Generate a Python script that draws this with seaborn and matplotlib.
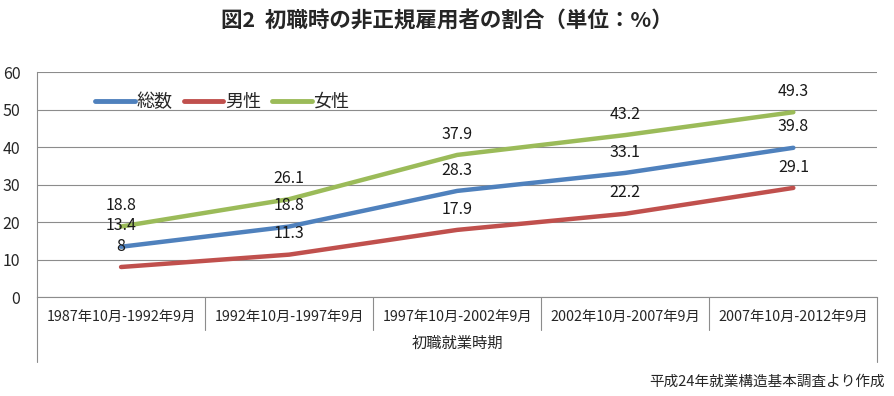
import pandas as pd
import seaborn as sns
import matplotlib.pyplot as plt

periods = ["1987年10月-1992年9月", "1992年10月-1997年9月", "1997年10月-2002年9月",
           "2002年10月-2007年9月", "2007年10月-2012年9月"]
total = [13.4, 18.8, 28.3, 33.1, 39.8]
male = [8, 11.3, 17.9, 22.2, 29.1]
female = [18.8, 26.1, 37.9, 43.2, 49.3]
series_names = ["総数", "男性", "女性"]
colors = ["#4F81BD", "#C0504D", "#9BBB59"]

rows = []
for name, vals in zip(series_names, [total, male, female]):
    for i, v in enumerate(vals):
        rows.append({"x": i, "value": v, "series": name})
df = pd.DataFrame(rows)

sns.set_style("white")
plt.rcParams["font.family"] = ["Noto Sans CJK JP", "DejaVu Sans"]

fig = plt.figure(figsize=(8.94, 3.96), dpi=100)
ax = fig.add_axes([0.0414, 0.25, 0.94, 0.568])

sns.lineplot(data=df, x="x", y="value", hue="series", hue_order=series_names,
             palette=colors, linewidth=3.2, ax=ax, legend=True,
             solid_capstyle="round")

for name, vals in zip(series_names, [total, male, female]):
    for i, v in enumerate(vals):
        ax.annotate(f"{v:g}", (i, v), xytext=(0, 15), textcoords="offset points",
                    ha="center", va="center", fontsize=11.5, color="#1a1a1a")

ax.set_xlim(-0.5, 4.5)
ax.set_ylim(0, 60)
ax.set_yticks(range(0, 61, 10))
ax.yaxis.grid(True, color="#8c8c8c", linewidth=0.8)
ax.set_axisbelow(True)
for s in ["top", "right"]:
    ax.spines[s].set_visible(False)
ax.spines["left"].set_color("#8c8c8c")
ax.spines["bottom"].set_color("#8c8c8c")
ax.tick_params(axis="y", labelsize=11.5, length=4, color="#8c8c8c", pad=8)
ax.tick_params(axis="x", length=0, labelsize=10.3, pad=9)
ax.set_xticks(range(5))
ax.set_xticklabels(periods)
ax.set_xlabel("初職就業時期", fontsize=11, labelpad=8)
ax.set_ylabel("")

# category separators below the axis
for xb in [-0.5, 0.5, 1.5, 2.5, 3.5, 4.5]:
    depth = -0.29 if xb in (-0.5, 4.5) else -0.147
    ax.plot([xb, xb], [0, depth], transform=ax.get_xaxis_transform(),
            color="#8c8c8c", linewidth=0.8, clip_on=False)

handles, labels = ax.get_legend_handles_labels()
leg = ax.legend(handles, labels, loc="upper left", bbox_to_anchor=(0.05, 0.98),
                ncol=3, frameon=False, fontsize=13, handlelength=2.2,
                handletextpad=0.1, columnspacing=0.6)
for line in leg.get_lines():
    line.set_linewidth(3.5)
    line.set_solid_capstyle("round")

fig.suptitle("図2  初職時の非正規雇用者の割合（単位：%）", fontsize=15.5,
             fontweight="bold", y=0.975)
fig.text(0.99, 0.035, "平成24年就業構造基本調査より作成", ha="right",
         va="center", fontsize=10.5)

fig.savefig("out.png", dpi=100)
